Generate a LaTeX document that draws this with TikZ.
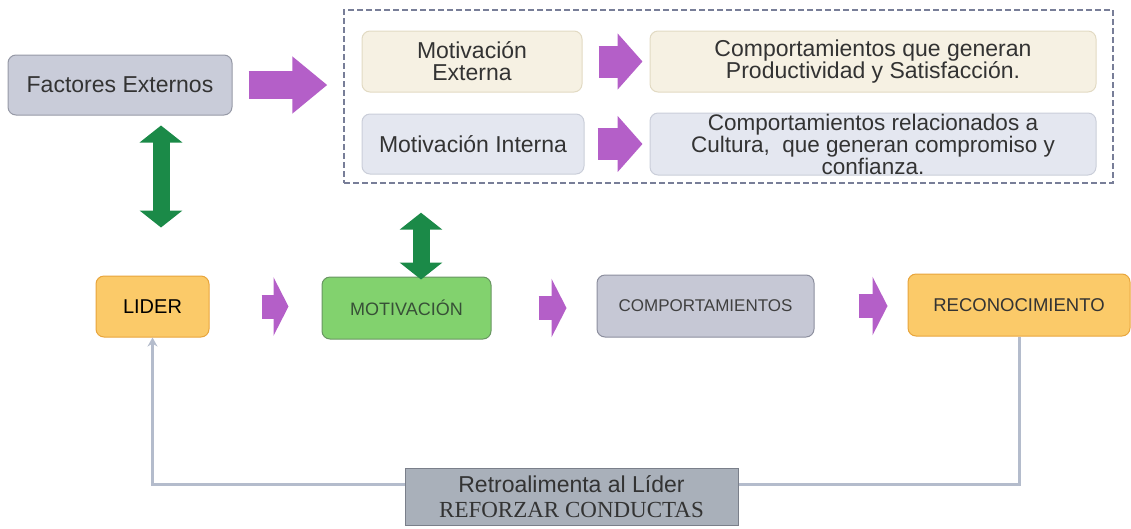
\documentclass[tikz,border=0pt]{standalone}
\usepackage{fontspec}
\setmainfont{Liberation Sans}
\newfontfamily\serifschrift{Liberation Serif}
\usetikzlibrary{arrows.meta}

\definecolor{lila}{RGB}{180,95,200}
\definecolor{gruen}{RGB}{27,138,72}
\definecolor{faktfill}{RGB}{201,204,217}
\definecolor{faktdraw}{RGB}{150,153,166}
\definecolor{creme}{RGB}{246,241,227}
\definecolor{cremerand}{RGB}{226,218,195}
\definecolor{hellblau}{RGB}{228,231,240}
\definecolor{hellblaurand}{RGB}{202,206,217}
\definecolor{orangefill}{RGB}{251,202,105}
\definecolor{orangedraw}{RGB}{232,165,60}
\definecolor{motfill}{RGB}{130,210,110}
\definecolor{motdraw}{RGB}{105,150,98}
\definecolor{compfill}{RGB}{198,200,213}
\definecolor{compdraw}{RGB}{140,143,158}
\definecolor{retfill}{RGB}{169,176,186}
\definecolor{retdraw}{RGB}{122,127,138}
\definecolor{rueckfarbe}{RGB}{180,188,204}
\definecolor{strich}{RGB}{120,126,152}

\tikzset{
	kasten/.style={rounded corners=8pt, line width=1pt, align=center, inner sep=0pt, text=black!80, font=\fontsize{23}{22}\selectfont},
	unten/.style={kasten, font=\fontsize{17}{17}\selectfont},
	lilagross/.style={lila, line width=28pt, -{Triangle[width=55pt, length=35pt]}},
	lilaklein/.style={lila, line width=32pt, -{Triangle[width=55pt, length=25pt]}},
	lilaunten/.style={lila, line width=24pt, -{Triangle[width=58pt, length=15pt]}},
	doppelpfeil/.style={gruen, line width=17pt, {Triangle[width=42pt, length=17pt]}-{Triangle[width=42pt, length=17pt]}},
	rueck/.style={rueckfarbe, line width=3pt, -{Stealth[length=9pt, width=10pt]}}
}

\begin{document}
\begin{tikzpicture}[x=1pt, y=-1pt]
	\useasboundingbox (0,0) rectangle (1131,528); % Rand wie im Original
	
	% obere Reihe
	\node[kasten, fill=faktfill, draw=faktdraw, minimum width=224pt, minimum height=60pt] (fakt) at (120,85) {Factores Externos};
	\node[draw=strich, dash pattern=on 6pt off 3pt, line width=1.4pt, minimum width=769pt, minimum height=173pt] (grp) at (728.5,96.5) {};
	
	\node[kasten, fill=creme, draw=cremerand, minimum width=220pt, minimum height=61pt] (motext) at (472,61.5) {Motivación\\Externa};
	\node[kasten, fill=hellblau, draw=hellblaurand, minimum width=222pt, minimum height=60pt] (motint) at (473,144) {Motivación Interna};
	\node[kasten, fill=creme, draw=cremerand, minimum width=446pt, minimum height=61pt] (compext) at (873,61.5) {Comportamientos que generan\\Productividad y Satisfacción.};
	\node[kasten, fill=hellblau, draw=hellblaurand, minimum width=446pt, minimum height=62pt, font=\fontsize{22.5}{18}\selectfont] (compint) at (873,144) {Comportamientos relacionados a\\Cultura,~ que generan compromiso y\\confianza.};
	
	\draw[lilagross, shorten <=16pt, shorten >=16pt] (fakt.east) -- (fakt.east -| grp.west);
	\draw[lilaklein, shorten <=16pt, shorten >=7pt] (motext.east) -- (compext.west);
	\draw[lilaklein, shorten <=13pt, shorten >=7pt] (motint.east) -- (compint.west);
	
	% untere Reihe
	\node[unten, fill=orangefill, draw=orangedraw, minimum width=113pt, minimum height=61pt, text=black, font=\fontsize{20}{20}\selectfont] (lider) at (152.5,306.5) {LIDER};
	\node[unten, fill=motfill, draw=motdraw, minimum width=169pt, minimum height=62pt, text={rgb,255:red,55;green,80;blue,55}, font=\fontsize{18}{18}\selectfont] (mot) at (406.5,308) {MOTIVACIÓN};
	\node[unten, fill=compfill, draw=compdraw, minimum width=217pt, minimum height=62pt, text=black!75] (comp) at (705.5,306) {COMPORTAMIENTOS};
	\node[unten, fill=orangefill, draw=orangedraw, minimum width=222pt, minimum height=62pt, text=black!80, font=\fontsize{18.5}{18}\selectfont] (recon) at (1019,305) {RECONOCIMIENTO};
	
	\draw[lilaunten, shorten <=52pt, shorten >=33pt] (lider.east) -- (lider.east -| mot.west);
	\draw[lilaunten, shorten <=47pt, shorten >=30pt] (mot.east) -- (mot.east -| comp.west);
	\draw[lilaunten, shorten <=44pt, shorten >=20pt] (comp.east) -- (comp.east -| recon.west);
	
	\draw[doppelpfeil, shorten <=10pt, shorten >=48pt] ([xshift=41pt]fakt.south) -- ([xshift=41pt]fakt.south |- lider.north);
	\draw[doppelpfeil, shorten <=29pt, shorten >=-3pt] ([xshift=14.5pt]mot.north |- grp.south) -- ([xshift=14.5pt]mot.north);
	
	% Rueckkopplung
	\coordinate (knick) at (571.5,484);
	\draw[rueck] (recon.south) |- (knick) -| (lider.south);
	\node[kasten, rounded corners=0pt, fill=retfill, draw=retdraw, minimum width=333pt, minimum height=57pt, font=\fontsize{23}{25}\selectfont] (retro) at (571.5,496.5) {Retroalimenta al Líder\\{\serifschrift REFORZAR CONDUCTAS}};
	
	%\draw[help lines, step=50] (0,0) grid (1131,528);
\end{tikzpicture}
\end{document}
